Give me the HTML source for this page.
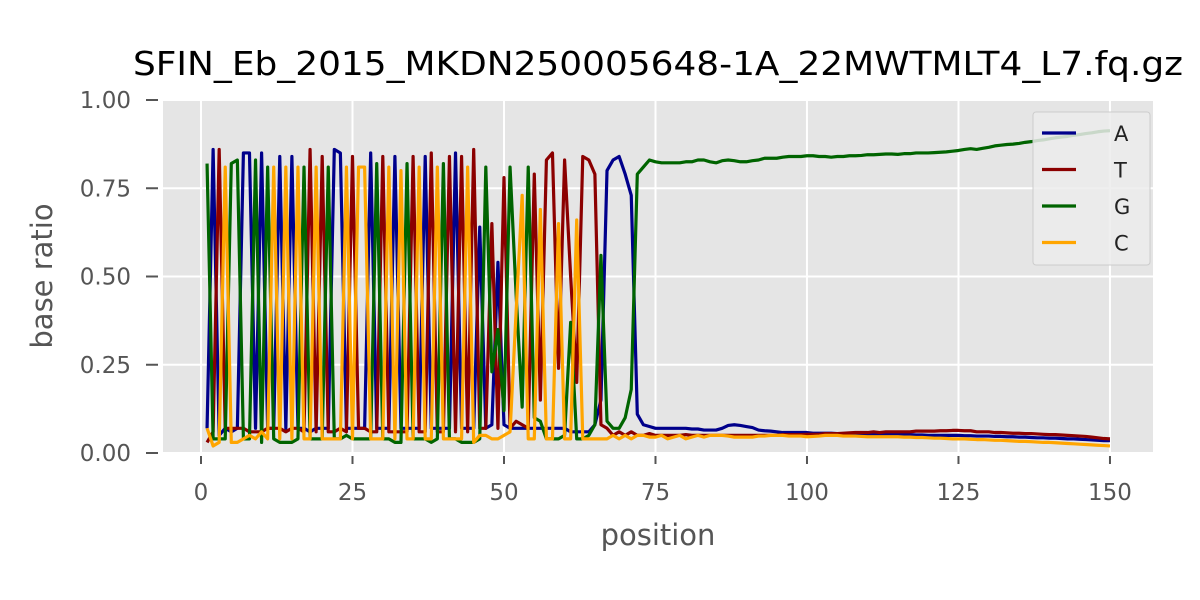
<!DOCTYPE html>
<html><head><meta charset="utf-8"><style>
html,body{margin:0;padding:0;background:#fff;}
svg{display:block;font-family:"DejaVu Sans","Liberation Sans",sans-serif;}
</style></head><body>
<svg id="chart" width="1200" height="600" viewBox="0 0 1200 600">
<text x="658" y="75" text-anchor="middle" font-size="33" textLength="1050" lengthAdjust="spacingAndGlyphs" fill="#000">SFIN_Eb_2015_MKDN250005648-1A_22MWTMLT4_L7.fq.gz</text>
<rect x="163" y="100" width="990" height="352" fill="#e5e5e5"/>
<g id="grid"></g>
<g id="ticks"></g>
<g id="series"></g>
<text x="658" y="545" text-anchor="middle" font-size="29" fill="#555">position</text>
<text transform="translate(52,276) rotate(-90)" text-anchor="middle" font-size="29" fill="#555">base ratio</text>
<g id="legend">
<rect x="1033" y="112" width="117" height="153" rx="3" fill="#ececec" fill-opacity="0.85" stroke="#ccc" stroke-width="1"/>
</g>
</svg>
<script>
const xTicks = [0, 25, 50, 75, 100, 125, 150];
const yTicks = [0, 0.25, 0.5, 0.75, 1.0];
const yTickLabels = ["0.00", "0.25", "0.50", "0.75", "1.00"];
const seriesNames = ["A", "T", "G", "C"];
const seriesColors = ["#00008b", "#8b0000", "#006400", "#ffa500"];

const aEarly = [.07,.86,.05,.07,.06,.07,.85,.85,.07,.85,
 .07,.07,.84,.07,.84,.07,.07,.06,.07,.07,
 .07,.86,.85,.07,.07,.07,.07,.85,.07,.07,
 .07,.84,.07,.07,.07,.07,.84,.07,.07,.07,
 .07,.85,.07,.07,.07,.64,.07,.08,.54,.08,
 .07,.07,.07,.07,.07,.07,.07,.07,.07,.07,
 .06,.06,.06,.06,.08,.15,.80,.83,.84,.79,
 .73,.11];
const aTail = [.08,.075,.07,.07,.07,.07,.07,.07,.068,.068,
 .065,.065,.065,.07,.078,.08,.078,.075,.072,.065,
 .063,.062,.06,.058,.058,.058,.058,.058,.056,.056,
 .056,.056,.055,.055,.055,.054,.054,.054,.053,.053,
 .053,.052,.052,.052,.052,.051,.051,.05,.05,.05,
 .05,.05,.05,.049,.049,.048,.048,.048,.047,.047,
 .046,.046,.045,.045,.044,.043,.043,.042,.042,.041,
 .04,.04,.039,.038,.037,.036,.035,.035];

const tEarly = [.03,.06,.86,.07,.07,.07,.07,.06,.06,.06,
 .07,.07,.07,.06,.07,.07,.06,.86,.06,.84,
 .06,.06,.07,.06,.84,.07,.07,.06,.06,.84,
 .06,.06,.06,.06,.84,.06,.06,.85,.06,.06,
 .84,.06,.84,.06,.86,.07,.07,.65,.07,.78,
 .07,.09,.08,.07,.79,.15,.83,.85,.24,.83,
 .5,.2,.84,.83,.79,.08,.07,.05,.06,.05,
 .06,.05];
const tTail = [.05,.055,.05,.05,.05,.05,.05,.052,.05,.05,
 .05,.05,.05,.05,.05,.05,.05,.05,.05,.05,
 .05,.05,.05,.052,.052,.052,.052,.053,.053,.053,
 .055,.055,.055,.056,.057,.058,.058,.058,.06,.058,
 .06,.06,.06,.06,.06,.062,.062,.062,.062,.063,
 .063,.064,.064,.063,.063,.06,.06,.06,.058,.058,
 .057,.056,.056,.055,.055,.054,.053,.052,.052,.051,
 .05,.049,.048,.047,.045,.043,.041,.04];

const gEarly = [.82,.04,.04,.04,.82,.83,.04,.04,.83,.03,
 .81,.04,.03,.03,.03,.04,.81,.04,.04,.04,
 .81,.04,.04,.05,.04,.04,.04,.04,.82,.04,
 .04,.03,.03,.82,.04,.04,.04,.03,.04,.82,
 .04,.04,.03,.03,.03,.04,.81,.23,.35,.12,
 .81,.45,.13,.81,.1,.09,.04,.04,.04,.05,
 .37,.04,.04,.05,.08,.56,.09,.07,.07,.1,
 .18,.79];
const gTail = [.81,.83,.825,.822,.822,.822,.822,.825,.825,.83,
 .83,.825,.822,.828,.83,.828,.825,.825,.828,.83,
 .835,.835,.835,.838,.84,.84,.84,.842,.842,.84,
 .84,.838,.84,.84,.842,.842,.843,.845,.845,.846,
 .847,.847,.846,.848,.848,.85,.85,.85,.851,.852,
 .853,.855,.857,.86,.862,.86,.863,.866,.87,.872,
 .874,.875,.877,.88,.882,.885,.887,.89,.893,.895,
 .897,.9,.902,.905,.907,.91,.912,.913];

const cEarly = [.07,.02,.03,.81,.03,.03,.04,.05,.04,.06,
 .04,.81,.04,.81,.04,.81,.04,.04,.81,.04,
 .04,.04,.04,.81,.04,.81,.81,.04,.04,.04,
 .81,.04,.80,.04,.04,.81,.04,.04,.81,.04,
 .04,.04,.04,.81,.03,.05,.05,.04,.04,.05,
 .06,.4,.73,.04,.04,.69,.04,.04,.65,.04,
 .04,.66,.04,.04,.04,.04,.04,.05,.04,.05,
 .04,.05];
const cTail = [.05,.045,.045,.05,.04,.045,.05,.04,.045,.05,
 .045,.05,.05,.05,.048,.045,.045,.045,.045,.048,
 .048,.05,.05,.05,.048,.048,.048,.046,.047,.048,
 .05,.05,.05,.048,.048,.048,.047,.046,.046,.046,
 .046,.046,.046,.045,.045,.044,.044,.043,.042,.042,
 .041,.04,.04,.04,.039,.038,.038,.037,.036,.036,
 .035,.034,.033,.033,.032,.031,.03,.03,.029,.028,
 .027,.026,.025,.024,.023,.022,.021,.02];

const seriesValues = [aEarly.concat(aTail), tEarly.concat(tTail), gEarly.concat(gTail), cEarly.concat(cTail)];

const NS = "http://www.w3.org/2000/svg";
const L = 163, R = 1153, T = 100, B = 452;
const xMin = -6.27, xMax = 157.1, yMin = 0, yMax = 1.0;
function xs(v){ return L + (v - xMin) / (xMax - xMin) * (R - L); }
function ys(v){ return 453 - (v - yMin) / (yMax - yMin) * 353; }
function mk(tag, attrs, parent){ const e = document.createElementNS(NS, tag); for (const k in attrs) e.setAttribute(k, attrs[k]); parent.appendChild(e); return e; }

const grid = document.getElementById('grid');
const ticks = document.getElementById('ticks');
xTicks.forEach(function(t){
  const x = xs(t);
  const gl = mk('line', {x1:x, x2:x, y1:T, y2:B, stroke:'#fff', 'stroke-width':2}, grid);
  
  
  const tk = mk('line', {x1:x, x2:x, y1:B+4, y2:B+12, stroke:'#555', 'stroke-width':2}, ticks);
  
  
  const lb = mk('text', {x:x, y:500, 'text-anchor':'middle', 'font-size':23, fill:'#555'}, ticks);
  lb.textContent = String(t);
  
  
});
yTicks.forEach(function(t, i){
  const y = ys(t);
  const gl = mk('line', {x1:L, x2:R, y1:y, y2:y, stroke:'#fff', 'stroke-width':2}, grid);
  
  
  const tk = mk('line', {x1:146, x2:158, y1:y, y2:y, stroke:'#555', 'stroke-width':2}, ticks);
  
  
  const lb = mk('text', {x:131, y:y+8, 'text-anchor':'end', 'font-size':23, fill:'#555'}, ticks);
  lb.textContent = yTickLabels[i];
  
  
});

const series = document.getElementById('series');
seriesValues.forEach(function(vals, si){
  const pts = vals.map(function(v, i){ return xs(i + 1).toFixed(2) + ',' + ys(v).toFixed(2); }).join(' ');
  const pl = mk('polyline', {points:pts, fill:'none', stroke:seriesColors[si], 'stroke-width':3.2, 'stroke-linejoin':'round'}, series);
  
  
});

const legend = document.getElementById('legend');
seriesNames.forEach(function(n, i){
  const y = 133 + i * 36.5;
  const ln = mk('line', {x1:1042, x2:1076, y1:y, y2:y, stroke:seriesColors[i], 'stroke-width':3.2}, legend);
  
  
  const tx = mk('text', {x:1114, y:y+8, 'font-size':21, fill:'#222'}, legend);
  tx.textContent = n;
  
  
});
</script>
</body></html>
